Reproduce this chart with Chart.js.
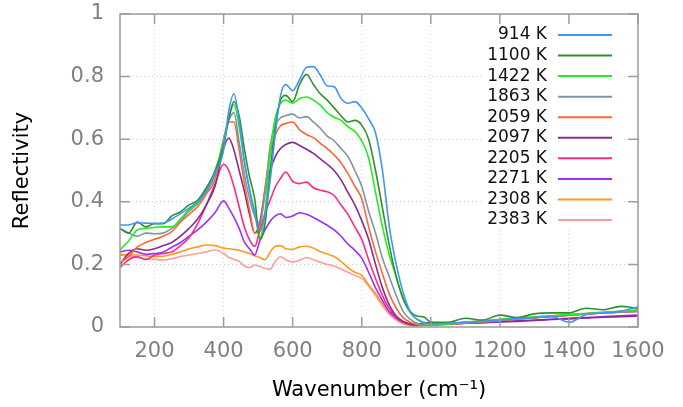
<!DOCTYPE html>
<html><head><meta charset="utf-8">
<script src="https://cdn.jsdelivr.net/npm/chart.js@4.4.1/dist/chart.umd.min.js"></script>
<style>html,body{margin:0;padding:0;background:#fff;overflow:hidden}canvas{display:block}</style>
</head><body>
<canvas id="c" width="683" height="407"></canvas>
<script>
const wavenumbers = [100,125,150,175,200,225,250,275,300,325,350,375,400,
  415,430,445,460,475,490,505,520,535,550,565,580,
  600,620,640,660,680,700,720,740,760,780,800,820,840,860,880,900,920,940,960,980,1000,
  1050,1100,1150,1200,1250,1300,1350,1400,1450,1500,1550,1600];

const temperatures = ['914 K','1100 K','1422 K','1863 K','2059 K','2097 K','2205 K','2271 K','2308 K','2383 K'];

const r914 = [0.326,0.326,0.333,0.332,0.331,0.332,0.345,0.362,0.38,0.40,0.435,0.49,0.565,
  0.69,0.745,0.66,0.53,0.44,0.36,0.305,0.36,0.47,0.62,0.74,0.775,
  0.755,0.79,0.83,0.832,0.805,0.77,0.768,0.73,0.715,0.72,0.70,0.665,0.62,0.50,0.32,0.20,0.11,0.05,0.025,0.015,0.01,
  0.012,0.015,0.018,0.022,0.027,0.03,0.034,0.015,0.04,0.045,0.05,0.065];
const r1100 = [0.315,0.30,0.335,0.32,0.33,0.33,0.355,0.368,0.39,0.405,0.445,0.495,0.58,
  0.665,0.72,0.675,0.57,0.48,0.41,0.28,0.33,0.50,0.64,0.725,0.74,
  0.72,0.775,0.807,0.775,0.745,0.725,0.70,0.675,0.655,0.66,0.645,0.60,0.50,0.38,0.26,0.16,0.09,0.05,0.035,0.032,0.016,
  0.015,0.028,0.022,0.038,0.03,0.042,0.045,0.045,0.06,0.055,0.066,0.06];
const r1422 = [0.246,0.275,0.31,0.315,0.318,0.32,0.32,0.345,0.375,0.395,0.44,0.50,0.59,
  0.67,0.71,0.64,0.53,0.44,0.37,0.285,0.37,0.56,0.67,0.715,0.725,
  0.715,0.73,0.735,0.725,0.709,0.685,0.67,0.66,0.64,0.625,0.595,0.54,0.43,0.32,0.23,0.16,0.09,0.046,0.025,0.012,0.008,
  0.01,0.015,0.02,0.025,0.028,0.032,0.036,0.04,0.043,0.047,0.05,0.055];
const r1863 = [0.315,0.30,0.29,0.30,0.298,0.30,0.315,0.34,0.37,0.395,0.43,0.485,0.60,
  0.66,0.685,0.59,0.49,0.41,0.355,0.33,0.43,0.58,0.645,0.668,0.675,
  0.68,0.668,0.672,0.655,0.635,0.61,0.595,0.57,0.545,0.50,0.45,0.37,0.30,0.22,0.16,0.10,0.05,0.025,0.012,0.006,0.006,
  0.01,0.014,0.018,0.022,0.026,0.03,0.034,0.038,0.042,0.045,0.048,0.05];
const r2059 = [0.205,0.225,0.255,0.27,0.28,0.29,0.305,0.335,0.36,0.385,0.425,0.47,0.60,
  0.655,0.655,0.565,0.46,0.375,0.30,0.32,0.445,0.555,0.615,0.643,0.65,
  0.655,0.63,0.615,0.605,0.587,0.57,0.55,0.525,0.49,0.45,0.41,0.32,0.24,0.17,0.105,0.06,0.03,0.015,0.008,0.005,0.006,
  0.008,0.012,0.016,0.02,0.025,0.03,0.034,0.038,0.042,0.045,0.048,0.05];
const r2097 = [0.20,0.235,0.25,0.245,0.25,0.26,0.27,0.29,0.315,0.345,0.39,0.45,0.57,
  0.604,0.565,0.50,0.434,0.36,0.30,0.335,0.435,0.50,0.545,0.57,0.583,
  0.59,0.58,0.568,0.555,0.537,0.52,0.50,0.47,0.43,0.39,0.34,0.28,0.20,0.125,0.07,0.035,0.018,0.01,0.008,0.012,0.014,
  0.01,0.012,0.014,0.016,0.018,0.021,0.024,0.026,0.029,0.031,0.033,0.035];
const r2205 = [0.19,0.215,0.225,0.215,0.23,0.235,0.24,0.26,0.285,0.33,0.39,0.455,0.52,
  0.50,0.448,0.384,0.32,0.278,0.257,0.31,0.363,0.406,0.448,0.475,0.495,
  0.465,0.458,0.463,0.445,0.437,0.432,0.42,0.39,0.36,0.32,0.28,0.215,0.155,0.10,0.058,0.03,0.015,0.008,0.006,0.008,0.012,
  0.012,0.015,0.018,0.022,0.026,0.03,0.034,0.038,0.042,0.045,0.047,0.05];
const r2271 = [0.24,0.245,0.24,0.232,0.235,0.24,0.255,0.27,0.29,0.31,0.335,0.365,0.403,
  0.38,0.35,0.315,0.272,0.25,0.23,0.275,0.31,0.338,0.355,0.362,0.35,
  0.355,0.365,0.36,0.35,0.338,0.325,0.31,0.29,0.265,0.245,0.22,0.175,0.125,0.085,0.048,0.028,0.015,0.008,0.005,0.008,0.012,
  0.01,0.012,0.014,0.017,0.02,0.022,0.025,0.028,0.03,0.033,0.036,0.038];
const r2308 = [0.232,0.23,0.23,0.228,0.225,0.226,0.232,0.24,0.25,0.256,0.262,0.26,0.252,
  0.25,0.248,0.245,0.24,0.235,0.228,0.222,0.215,0.24,0.258,0.26,0.25,
  0.248,0.256,0.258,0.252,0.241,0.233,0.225,0.21,0.19,0.175,0.165,0.135,0.107,0.075,0.047,0.027,0.012,0.006,0.004,0.006,0.01,
  0.01,0.014,0.018,0.022,0.026,0.03,0.034,0.038,0.042,0.046,0.05,0.052];
const r2383 = [0.23,0.226,0.222,0.218,0.216,0.214,0.218,0.225,0.23,0.235,0.24,0.246,0.235,
  0.222,0.216,0.21,0.195,0.19,0.198,0.193,0.187,0.185,0.21,0.224,0.215,
  0.208,0.213,0.222,0.215,0.207,0.20,0.195,0.185,0.175,0.165,0.155,0.13,0.10,0.068,0.04,0.022,0.01,0.005,0.004,0.006,0.01,
  0.012,0.016,0.02,0.024,0.028,0.032,0.036,0.04,0.044,0.047,0.05,0.053];

const seriesValues = [r914,r1100,r1422,r1863,r2059,r2097,r2205,r2271,r2308,r2383];
const seriesColors = ['#3f97f3','#2f8f2f','#22ee22','#8094a4','#ff6633','#8a2a8a','#ff2a85','#9b30ff','#ff9a22','#ff9c9c'];

const xTicks = [200,400,600,800,1000,1200,1400,1600];
const yTicks = [0,0.2,0.4,0.6,0.8,1];

const FONT = 'DejaVu Sans';

const framePlugin = {
  id: 'frame',
  afterDraw(chart) {
    const {ctx, chartArea: a, scales: {x, y}} = chart;
    ctx.save();
    ctx.strokeStyle = '#9c9c9c';
    ctx.lineWidth = 1.5;
    const tl = 10;
    ctx.beginPath();
    xTicks.forEach(v => {
      const px = x.getPixelForValue(v);
      ctx.moveTo(px, a.bottom); ctx.lineTo(px, a.bottom - tl);
      ctx.moveTo(px, a.top); ctx.lineTo(px, a.top + tl);
    });
    yTicks.forEach(v => {
      const py = y.getPixelForValue(v);
      ctx.moveTo(a.left, py); ctx.lineTo(a.left + tl, py);
      ctx.moveTo(a.right, py); ctx.lineTo(a.right - tl, py);
    });
    ctx.stroke();
    ctx.strokeRect(a.left, a.top, a.right - a.left, a.bottom - a.top);
    ctx.restore();
  }
};

const legendPlugin = {
  id: 'sideLegend',
  afterDatasetsDraw(chart, args, opts) {
    const ctx = chart.ctx;
    ctx.save();
    ctx.fillStyle = '#fff';
    ctx.fillRect(opts.boxLeft, opts.boxTop, opts.boxWidth, opts.boxHeight);
    ctx.font = '17px "' + FONT + '"';
    ctx.textAlign = 'right';
    ctx.textBaseline = 'middle';
    chart.data.datasets.forEach((ds, i) => {
      const yy = opts.top + i * opts.step;
      ctx.fillStyle = '#111';
      ctx.fillText(ds.label, opts.textRight, yy);
      ctx.strokeStyle = ds.borderColor;
      ctx.lineWidth = 2;
      ctx.beginPath();
      ctx.moveTo(opts.lineStart, yy);
      ctx.lineTo(opts.lineEnd, yy);
      ctx.stroke();
    });
    ctx.restore();
  }
};

new Chart(document.getElementById('c'), {
  type: 'line',
  data: {
    datasets: temperatures.map((t, i) => ({
      label: t,
      data: wavenumbers.map((w, j) => ({x: w, y: seriesValues[i][j]})),
      borderColor: seriesColors[i],
      backgroundColor: seriesColors[i],
      borderWidth: 1.6,
      pointRadius: 0,
      fill: false,
      cubicInterpolationMode: 'monotone'
    }))
  },
  options: {
    responsive: false,
    devicePixelRatio: 1,
    animation: false,
    layout: { padding: { left: 0, right: 45, top: 14, bottom: 0 } },
    plugins: {
      legend: { display: false },
      tooltip: { enabled: false },
      sideLegend: { top: 35, step: 20.56, textRight: 547, lineStart: 558, lineEnd: 612,
                    boxLeft: 482, boxTop: 15, boxWidth: 141, boxHeight: 215 }
    },
    scales: {
      x: {
        type: 'linear', min: 100, max: 1600,
        afterBuildTicks: s => { s.ticks = xTicks.map(v => ({value: v})); },
        afterFit: s => { s.height = 80; },
        grid: { color: '#cfcfcf', lineWidth: 1, drawTicks: false },
        border: { display: false, dash: [1, 3] },
        ticks: { color: '#808080', font: { family: FONT, size: 21 }, padding: 12,
                 maxRotation: 0, autoSkip: false, callback: v => String(v) },
        title: { display: true, text: 'Wavenumber (cm\u207B\u00B9)', color: '#000',
                 font: { family: FONT, size: 21 }, padding: { top: 0, bottom: 4 } }
      },
      y: {
        type: 'linear', min: 0, max: 1,
        afterBuildTicks: s => { s.ticks = yTicks.map(v => ({value: v})); },
        afterFit: s => { s.width = 120; },
        grid: { color: '#cfcfcf', lineWidth: 1, drawTicks: true, tickLength: 16, tickColor: 'rgba(0,0,0,0)' },
        border: { display: false, dash: [1, 3] },
        ticks: { color: '#808080', font: { family: FONT, size: 21 }, padding: 0,
                 callback: v => String(v) },
        title: { display: true, text: 'Reflectivity', color: '#000',
                 font: { family: FONT, size: 21 }, padding: { top: 10, bottom: 0 } }
      }
    }
  },
  plugins: [legendPlugin, framePlugin]
});
</script>
</body></html>
